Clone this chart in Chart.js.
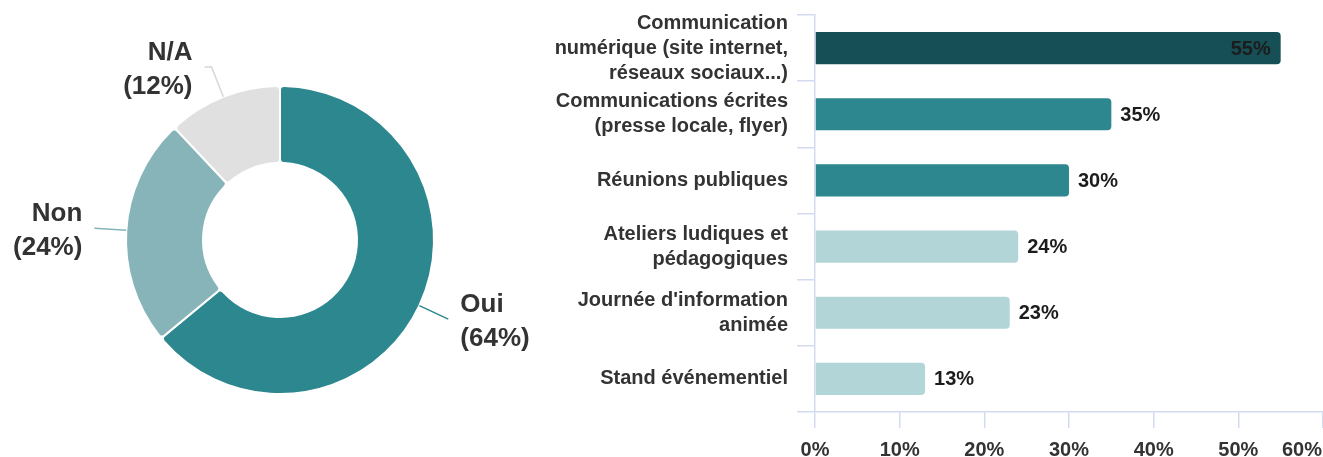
<!DOCTYPE html>
<html>
<head>
<meta charset="utf-8">
<script src="https://cdn.jsdelivr.net/npm/chart.js@4"></script>
<style>
  html, body { margin: 0; padding: 0; background: #fff; overflow: hidden; width: 1323px; height: 457px; }
  #pieBox { position: absolute; left: 0; top: 0; width: 560px; height: 457px; }
  #barBox { position: absolute; left: 530px; top: 0; width: 793px; height: 457px; }
</style>
</head>
<body>
<div id="pieBox"><canvas id="pie" width="560" height="457"></canvas></div>
<div id="barBox"><canvas id="bars" width="793" height="457"></canvas></div>
<script>
const pieLabels = ["Oui", "Non", "N/A"];
const pieValues = [64, 24, 12];
const pieColors = ["#2c878f", "#86b4b8", "#e0e0e0"];

const barLabels = [
  ["Communication", "numérique (site internet,", "réseaux sociaux...)"],
  ["Communications écrites", "(presse locale, flyer)"],
  "Réunions publiques",
  ["Ateliers ludiques et", "pédagogiques"],
  ["Journée d'information", "animée"],
  "Stand événementiel"
];
const barValues = [55, 35, 30, 24, 23, 13];
const barColors = ["#164f55", "#2c878f", "#2c878f", "#b2d6d8", "#b2d6d8", "#b2d6d8"];
const xTickValues = [0, 10, 20, 30, 40, 50, 60];

const FONT = "'Liberation Sans', Arial, Helvetica, sans-serif";
const gridColor = "#d2dbf0";
Chart.defaults.font.family = FONT;

// labels of the doughnut with their leader lines
const pieLabelPlugin = {
  id: "pieLabels",
  afterDraw(chart) {
    const ctx = chart.ctx;
    const meta = chart.getDatasetMeta(0);
    ctx.save();
    meta.data.forEach((arc, i) => {
      const p = arc.getProps(["x", "y", "outerRadius", "startAngle", "endAngle"], true);
      const mid = (p.startAngle + p.endAngle) / 2;
      const dx = Math.cos(mid), dy = Math.sin(mid);
      const ex = p.x + p.outerRadius * dx;
      const ey = p.y + p.outerRadius * dy;
      const lx = ex + 32 * dx, ly = ey + 32 * dy;
      const side = dx >= 0 ? 1 : -1;
      const hx = Math.abs(dx) < 0.5 ? lx + side * 7 : lx;

      ctx.beginPath();
      ctx.moveTo(ex, ey);
      ctx.lineTo(lx, ly);
      ctx.lineTo(hx, ly);
      ctx.strokeStyle = i === 2 ? "#d6d6d6" : pieColors[i];
      ctx.lineWidth = 1.5;
      ctx.stroke();

      ctx.fillStyle = "#333333";
      ctx.font = "bold 26px " + FONT;
      ctx.textAlign = side > 0 ? "left" : "right";
      ctx.textBaseline = "middle";
      const tx = hx + side * 12;
      ctx.fillText(pieLabels[i], tx, ly - 14);
      ctx.fillText("(" + pieValues[i] + "%)", tx, ly + 20);
    });
    ctx.restore();
  }
};

new Chart(document.getElementById("pie"), {
  type: "doughnut",
  data: {
    labels: pieLabels,
    datasets: [{
      data: pieValues,
      backgroundColor: pieColors,
      borderColor: "#ffffff",
      borderWidth: 2,
      borderRadius: 4,
      hoverOffset: 0
    }]
  },
  options: {
    responsive: false,
    animation: false,
    events: [],
    cutout: "50%",
    layout: { padding: { top: 85, bottom: 62, left: 0, right: 0 } },
    plugins: { legend: { display: false }, tooltip: { enabled: false } }
  },
  plugins: [pieLabelPlugin]
});

// value labels next to the bars, and the x tick labels (last one kept inside)
const barTextPlugin = {
  id: "barText",
  afterDraw(chart) {
    const ctx = chart.ctx;
    const meta = chart.getDatasetMeta(0);
    ctx.save();
    ctx.font = "bold 20px " + FONT;
    ctx.textBaseline = "middle";
    meta.data.forEach((bar, i) => {
      const txt = barValues[i] + "%";
      const w = ctx.measureText(txt).width;
      ctx.fillStyle = "#1c1c1c";
      if (bar.x + 9 + w > chart.width - 2) {
        ctx.textAlign = "right";
        ctx.fillText(txt, bar.x - 10, bar.y + 1);
      } else {
        ctx.textAlign = "left";
        ctx.fillText(txt, bar.x + 9, bar.y + 1);
      }
    });

    const sx = chart.scales.x;
    ctx.fillStyle = "#333333";
    ctx.textAlign = "center";
    xTickValues.forEach((v) => {
      const txt = v + "%";
      const w = ctx.measureText(txt).width;
      const x = Math.min(sx.getPixelForValue(v), chart.width - w / 2 - 1);
      ctx.fillText(txt, x, 450);
    });
    ctx.restore();
  }
};

new Chart(document.getElementById("bars"), {
  type: "bar",
  data: {
    labels: barLabels,
    datasets: [{
      data: barValues,
      backgroundColor: barColors,
      borderRadius: 4,
      borderSkipped: "start",
      categoryPercentage: 1,
      barPercentage: 0.485
    }]
  },
  options: {
    indexAxis: "y",
    responsive: false,
    animation: false,
    events: [],
    layout: { padding: { top: 15, left: 0, right: 0, bottom: 0 } },
    plugins: { legend: { display: false }, tooltip: { enabled: false } },
    scales: {
      x: {
        min: 0,
        max: 60,
        afterBuildTicks(scale) {
          scale.ticks = xTickValues.map((v) => ({ value: v }));
        },
        ticks: { display: false },
        grid: { drawOnChartArea: false, tickLength: 16, color: gridColor, lineWidth: 1.5 },
        border: { color: gridColor, width: 1.5 },
        afterFit(scale) {
          scale.height = 45;
          scale.paddingRight = 0;
          scale.paddingLeft = 0;
        }
      },
      y: {
        offset: true,
        ticks: {
          autoSkip: false,
          color: "#333333",
          padding: 9,
          font: { size: 20, weight: "bold", lineHeight: 1.25 }
        },
        grid: { offset: true, drawOnChartArea: false, tickLength: 18, color: gridColor, lineWidth: 1.5 },
        border: { color: gridColor, width: 1.5 },
        afterFit(scale) {
          scale.width = 285;
          scale.paddingTop = 0;
          scale.paddingBottom = 0;
        }
      }
    }
  },
  plugins: [barTextPlugin]
});
</script>
</body>
</html>
